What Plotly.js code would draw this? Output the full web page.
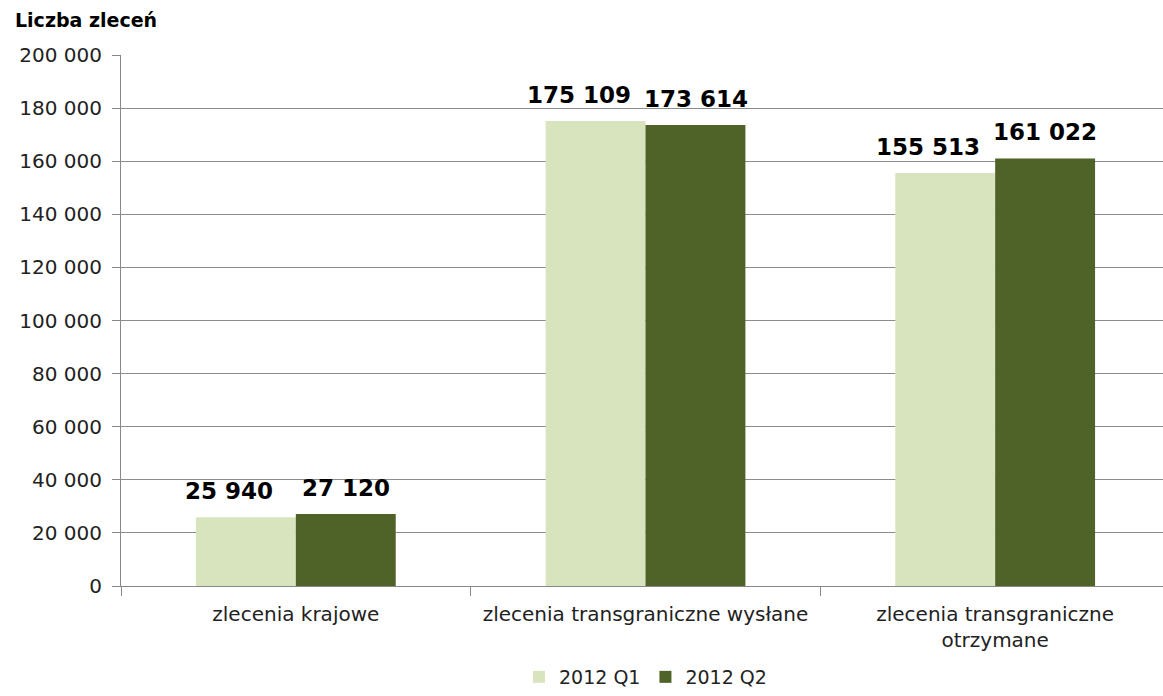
<!DOCTYPE html>
<html>
<head>
<meta charset="utf-8">
<script src="https://cdn.plot.ly/plotly-3.0.1.min.js"></script>
<style>html,body{margin:0;padding:0;overflow:hidden;background:#fff;}</style>
</head>
<body>
<div id="chart" style="width:1170px;height:696px;"></div>
<script>
const categories = ["zlecenia krajowe", "zlecenia transgraniczne wysłane", "zlecenia transgraniczne<br>otrzymane"];
const q1Values = [25940, 175109, 155513];
const q2Values = [27120, 173614, 161022];
const seriesNames = ["2012 Q1", "2012 Q2"];
const yTicks = [0, 20000, 40000, 60000, 80000, 100000, 120000, 140000, 160000, 180000, 200000];

const fontFam = "'DejaVu Sans', sans-serif";
const labelFont = {family: fontFam, size: 23, color: "#000", weight: "bold"};

const traces = [
  {type: "bar", name: seriesNames[0], x: categories, y: q1Values, marker: {color: "#d7e4bd"}},
  {type: "bar", name: seriesNames[1], x: categories, y: q2Values, marker: {color: "#4f6228"}}
];

function label(v) { return "<b>" + String(v).replace(/\B(?=(\d{3})+(?!\d))/g, " ") + "</b>"; }

const annotations = [];
[[q1Values, -67], [q2Values, 50]].forEach(([vals, dx]) => {
  vals.forEach((v, i) => {
    annotations.push({x: categories[i], y: v, xref: "x", yref: "y", text: label(v),
      showarrow: false, xanchor: "center", yanchor: "bottom", xshift: dx, yshift: 11,
      font: labelFont});
  });
});

const layout = {
  width: 1170, height: 696,
  margin: {l: 121, r: 0, t: 55, b: 110, autoexpand: false},
  separators: ", ",
  barmode: "group", bargap: 0.4286, bargroupgap: 0,
  paper_bgcolor: "#fff", plot_bgcolor: "#fff",
  font: {family: fontFam, size: 20, color: "#222"},
  title: {text: "<b>Liczba zleceń</b>", xref: "container", yref: "container",
          x: 15/1170, xanchor: "left", y: 1 - 20/696, yanchor: "middle",
          font: {family: fontFam, size: 19, color: "#000"}},
  xaxis: {type: "category", showgrid: false, ticks: "outside", tickson: "boundaries",
          ticklen: 9, tickcolor: "#888", showline: true, linecolor: "#888", linewidth: 1,
          ticklabelstandoff: 10, automargin: false,
          tickfont: {family: fontFam, size: 20, color: "#222"}},
  yaxis: {range: [0, 200000], tickvals: yTicks, tickformat: ",d", showgrid: true,
          gridcolor: "#8c8c8c", gridwidth: 1, ticks: "outside", ticklen: 8, tickcolor: "#888",
          showline: true, linecolor: "#888", linewidth: 1, zeroline: false,
          ticklabelstandoff: 6, automargin: false,
          tickfont: {family: fontFam, size: 20, color: "#222"}},
  legend: {orientation: "h", x: 0.5, xanchor: "center", yref: "container", y: 0, yanchor: "bottom",
           font: {family: fontFam, size: 19, color: "#222"}, traceorder: "normal"},
  annotations: annotations,
  showlegend: true
};

Plotly.newPlot("chart", traces, layout, {displayModeBar: false, staticPlot: true});
</script>
</body>
</html>
